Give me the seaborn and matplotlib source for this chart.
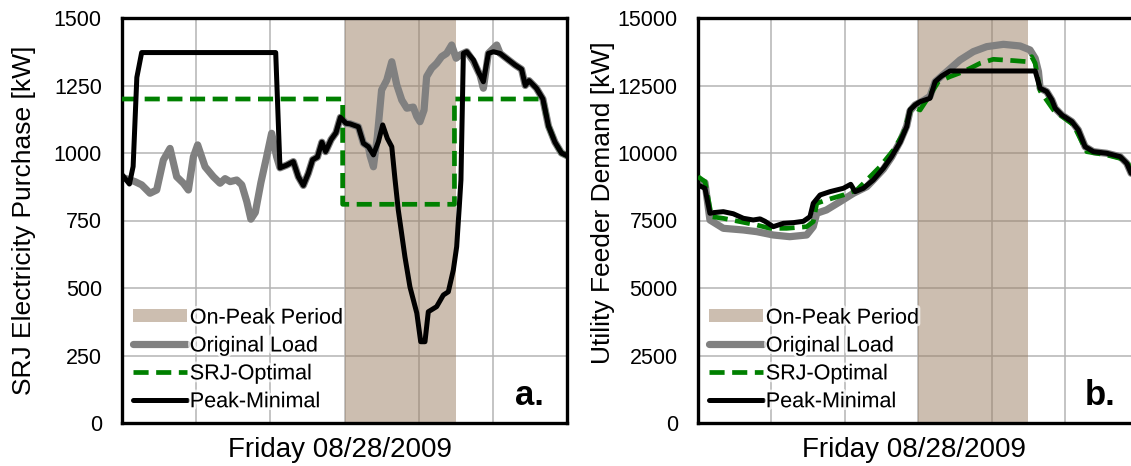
import pandas as pd
import matplotlib
matplotlib.use("Agg")
import matplotlib.pyplot as plt
import matplotlib.patheffects as pe
from matplotlib.lines import Line2D
from matplotlib.patches import Patch
import seaborn as sns

# ---- data (hour of day, kW) ----
peak_start = 12
peak_end = 18

# panel a: SRJ electricity purchase
a_orig_h = [0.0, 0.7, 1.06, 1.51, 1.87, 2.23, 2.59, 2.95, 3.31, 3.58, 3.85, 4.08, 4.48, 4.93,
            5.29, 5.56, 5.83, 6.19, 6.46, 6.73, 6.95, 7.19, 7.49, 7.78, 8.07, 8.34, 8.52, 8.88,
            9.24, 9.51, 9.78, 10.05, 10.28, 10.54, 10.78, 10.98, 11.28, 11.54, 11.78, 12.08, 12.3,
            12.75, 13.02, 13.29, 13.38, 13.56, 13.77, 14.0, 14.28, 14.55, 14.82, 15.09, 15.36,
            15.71, 15.9, 16.07, 16.29, 16.43, 16.7, 16.97, 17.24, 17.51, 17.78, 18.02, 18.23,
            18.59, 18.95, 19.31, 19.49, 19.76, 20.21, 20.39, 20.84, 21.2, 21.55, 21.75, 21.95,
            22.35, 22.7, 23.0, 23.35, 23.7, 24.0]
a_orig_kw = [910, 894, 882, 851, 863, 974, 1017, 912, 888, 863, 986, 1030, 949, 912,
             888, 905, 894, 900, 882, 820, 755, 780, 890, 980, 1073, 986, 945, 955,
             968, 912, 880, 925, 975, 985, 1040, 1005, 1050, 1075, 1132, 1110, 1108,
             1097, 1036, 1023, 990, 949, 1060, 1233, 1270, 1338, 1252, 1196, 1166,
             1170, 1135, 1116, 1159, 1283, 1314, 1332, 1357, 1369, 1400, 1351, 1363,
             1375, 1340, 1288, 1240, 1369, 1400, 1369, 1345, 1326, 1310, 1250, 1268,
             1240, 1200, 1100, 1040, 1000, 990]

a_srj_h = [0, 11.9, 11.9, 17.93, 17.93, 22.7, 23.0, 23.35, 23.7, 24.0]
a_srj_kw = [1200, 1200, 810, 810, 1200, 1200, 1100, 1040, 1000, 990]

a_min_h = [0.0, 0.4, 0.6, 0.8, 1.06, 8.29, 8.52, 8.88, 9.24, 9.51, 9.78, 10.05, 10.28, 10.54,
           10.78, 10.98, 11.28, 11.54, 11.78, 12.08, 12.3, 12.75, 13.02, 13.29, 13.56, 13.83,
           14.06, 14.31, 14.55, 14.72, 14.9, 15.0, 15.26, 15.53, 15.9, 16.11, 16.34, 16.52,
           16.97, 17.33, 17.6, 17.87, 18.05, 18.19, 18.28, 18.41, 18.59, 18.95, 19.22, 19.49,
           19.76, 20.03, 20.39, 20.84, 21.2, 21.55, 21.75, 21.95, 22.35, 22.7, 23.0, 23.35,
           23.7, 24.0]
a_min_kw = [920, 885, 950, 1280, 1372, 1372, 945, 955, 968, 912, 880, 925, 975, 985,
            1040, 1005, 1050, 1075, 1132, 1110, 1108, 1097, 1036, 1023, 993, 1042,
            1104, 1054, 1023, 905, 789, 741, 615, 504, 407, 301, 301, 412,
            431, 474, 486, 567, 653, 801, 900, 1369, 1375, 1345, 1301, 1264,
            1369, 1375, 1369, 1345, 1326, 1310, 1250, 1268, 1240, 1200, 1100, 1040,
            1000, 990]

# panel b: utility feeder demand
b_orig_h = [0.0, 0.38, 0.65, 1.38, 2.47, 3.2, 4.1, 5.0, 5.92, 6.28, 6.47, 7.0, 7.74, 8.47,
            9.2, 9.55, 10.1, 10.55, 11.01, 11.37, 11.55, 11.83, 12.3, 12.64, 12.92, 13.55,
            14.28, 15.0, 15.73, 16.64, 17.55, 18.09, 18.37, 18.55, 18.64, 19.0, 19.28, 19.46,
            19.82, 20.37, 20.72, 21.09, 21.54, 22.27, 23.0, 23.36, 23.6]
b_orig_kw = [9000, 8900, 7519, 7211, 7149, 7087, 6963, 6901, 6963, 7271, 7767, 7890, 8197, 8508,
             8753, 9000, 9400, 9850, 10420, 11000, 11560, 11780, 11950, 12100, 12640, 13013,
             13446, 13754, 13939, 14025, 13964, 13816, 13508, 13013, 12400, 12272, 11964, 11656,
             11408, 11161, 10852, 10234, 10049, 9990, 9864, 9619, 9249]

b_srj_h = [0.0, 0.38, 0.74, 1.38, 2.29, 3.2, 3.92, 4.83, 5.92, 6.28, 6.47, 7.0, 7.92, 8.65,
           9.2, 9.92, 10.65, 11.19, 11.64, 12.1, 12.64, 13.1, 13.73, 14.46, 15.37, 16.09,
           17.18, 17.91, 18.18, 18.37, 18.64, 19.37, 20.46, 21.18, 22.27, 23.36, 23.6]
b_srj_kw = [9124, 8940, 7642, 7580, 7457, 7333, 7210, 7210, 7271, 7457, 8137, 8260, 8445, 8630,
            9000, 9494, 10112, 10730, 11716, 11593, 12150, 12642, 12828, 13013, 13323, 13470,
            13422, 13384, 13570, 13323, 12300, 11593, 11040, 10050, 9927, 9740, 9300]

b_min_h = [0.0, 0.38, 0.65, 0.83, 1.38, 1.92, 2.47, 3.01, 3.38, 3.65, 4.1, 4.65, 5.19, 5.74,
           6.1, 6.28, 6.65, 7.19, 7.92, 8.32, 8.56, 9.01, 9.55, 10.1, 10.55, 11.01, 11.37,
           11.55, 11.83, 12.1, 12.64, 12.92, 13.28, 13.73, 18.37, 18.64, 19.0, 19.28, 19.46,
           19.82, 20.37, 20.72, 21.09, 21.54, 22.27, 23.0, 23.36, 23.6]
b_min_kw = [8815, 8693, 7767, 7790, 7827, 7750, 7582, 7519, 7560, 7470, 7271, 7395, 7420, 7470,
            7642, 8137, 8445, 8568, 8693, 8840, 8568, 8693, 9000, 9433, 9865, 10400, 10975,
            11593, 11779, 11900, 12027, 12642, 12853, 13038, 13038, 12398, 12272, 11964, 11656,
            11408, 11161, 10852, 10234, 10049, 9990, 9864, 9619, 9249]

labels = ["On-Peak Period", "Original Load", "SRJ-Optimal", "Peak-Minimal"]

# ---- styling ----
sns.set_style("white")
plt.rcParams["font.family"] = ["Liberation Sans", "DejaVu Sans"]
plt.rcParams["text.color"] = "black"
plt.rcParams["axes.labelcolor"] = "black"
plt.rcParams["ytick.labelcolor"] = "black"

shade_col = (155 / 255, 127 / 255, 99 / 255)
shade_alpha = 0.5
orig_kw = dict(color="grey", linewidth=5.2, solid_joinstyle="round")
srj_kw = dict(color="green", linewidth=3.4, dashes=(3.2, 1.6))
min_kw = dict(color="black", linewidth=3.6, solid_joinstyle="round")

fig = plt.figure(figsize=(11.31, 4.66), dpi=100)
W, H = 1131, 466
ax1 = fig.add_axes([122 / W, 43 / H, 445 / W, 405 / H])
ax2 = fig.add_axes([698 / W, 43 / H, 440.5 / W, 405 / H])


def draw_panel(ax, orig_h, orig_v, srj_h, srj_v, min_h, min_v, ymax, ystep, ylabel, lab_xy, tag):
    ax.set_axisbelow(True)
    ax.axvspan(peak_start, peak_end, color=shade_col, alpha=shade_alpha, lw=0, zorder=1)

    d1 = pd.DataFrame({"hour": orig_h, "kw": orig_v})
    d2 = pd.DataFrame({"hour": srj_h, "kw": srj_v})
    d3 = pd.DataFrame({"hour": min_h, "kw": min_v})
    sns.lineplot(data=d1, x="hour", y="kw", ax=ax, estimator=None, sort=False, zorder=2, **orig_kw)
    sns.lineplot(data=d2, x="hour", y="kw", ax=ax, estimator=None, sort=False, zorder=3, **srj_kw)
    sns.lineplot(data=d3, x="hour", y="kw", ax=ax, estimator=None, sort=False, zorder=4, **min_kw)

    ax.set_xlim(0, 24)
    ax.set_ylim(0, ymax)
    ax.set_xticks(range(0, 25, 4))
    ax.set_xticklabels([])
    ax.set_yticks(range(0, ymax + 1, ystep))
    ax.grid(True, color="#b4b4b4", linewidth=1.1)
    ax.tick_params(axis="x", length=0)
    ax.tick_params(axis="y", length=5, width=1, color="#808080", labelsize=15.5,
                   labelcolor="black", pad=9.5)
    for s in ax.spines.values():
        s.set_color("black")
        s.set_linewidth(2.4)

    ax.set_ylabel(ylabel, fontsize=19)
    ax.yaxis.set_label_coords(*lab_xy)
    ax.set_xlabel("Friday 08/28/2009", fontsize=20)
    ax.xaxis.set_label_coords(0.49, -0.035)

    ax.text(0.948, 0.045, tag, transform=ax.transAxes, ha="right", va="baseline",
            fontsize=25, fontweight="bold")

    handles = [Patch(facecolor=shade_col, alpha=shade_alpha, edgecolor="none"),
               Line2D([], [], **orig_kw),
               Line2D([], [], **srj_kw),
               Line2D([], [], **min_kw)]
    leg = ax.legend(handles, labels, loc="lower left", bbox_to_anchor=(0.0, 0.0), frameon=False,
                    fontsize=15.5, handlelength=2.5, handleheight=0.55, handletextpad=0.15,
                    labelspacing=0.32, borderaxespad=0.25, borderpad=0.25)
    for t in leg.get_texts():
        t.set_path_effects([pe.withStroke(linewidth=4, foreground="white", alpha=0.7)])


draw_panel(ax1, a_orig_h, a_orig_kw, a_srj_h, a_srj_kw, a_min_h, a_min_kw,
           1500, 250, "SRJ Electricity Purchase [kW]", (-0.193, 0.5), "a.")
draw_panel(ax2, b_orig_h, b_orig_kw, b_srj_h, b_srj_kw, b_min_h, b_min_kw,
           15000, 2500, "Utility Feeder Demand [kW]", (-0.188, 0.543), "b.")

plt.savefig("out.png", dpi=100)
